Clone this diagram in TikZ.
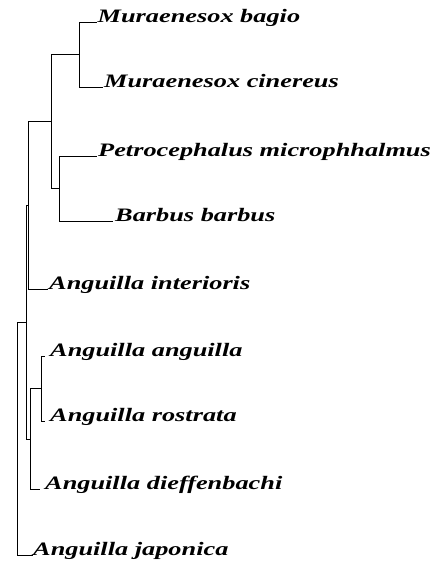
\documentclass[tikz,border=0pt]{standalone}
\usepackage{fontspec}
\setmainfont{Liberation Serif}
\newcommand{\wide}[1]{\scalebox{1.385}[1]{#1}}
\begin{document}
\begin{tikzpicture}[x=1pt,y=-1pt,
  branch/.style={line width=0.9pt, black},
  taxon/.style={anchor=base west, inner sep=0pt, font=\fontsize{19}{21}\selectfont\bfseries\itshape}]
\useasboundingbox (0,0) rectangle (438,567);
% leaf tips
\coordinate (tmb) at (97,22.7);
\coordinate (tmc) at (103,87.3);
\coordinate (tpm) at (97,156);
\coordinate (tbb) at (113,221.7);
\coordinate (tai) at (48,289.3);
\coordinate (taa) at (45,356);
\coordinate (tar) at (45,421);
\coordinate (tad) at (40,489.3);
\coordinate (taj) at (33,555);
% internal nodes
\coordinate (A) at (79,54);
\coordinate (B) at (59.3,188.8);
\coordinate (C) at (51.7,121.7);
\coordinate (D) at (28.3,205.5);
\coordinate (E) at (41.7,388.5);
\coordinate (F) at (30,439);
\coordinate (G) at (26.7,322);
\coordinate (H) at (17.3,438.5);
% labels
\node[taxon] (mb) at (97.5,22.7) {\wide{Muraenesox bagio}};
\node[taxon] (mc) at (104,87.3) {\wide{Muraenesox cinereus}};
\node[taxon] (pm) at (98,156) {\wide{Petrocephalus microphhalmus}};
\node[taxon] (bb) at (115,221.7) {\wide{Barbus barbus}};
\node[taxon] (ai) at (49,289.3) {\wide{Anguilla interioris}};
\node[taxon] (aa) at (50,356) {\wide{Anguilla anguilla}};
\node[taxon] (ar) at (50,421) {\wide{Anguilla rostrata}};
\node[taxon] (ad) at (45,489.3) {\wide{Anguilla dieffenbachi}};
\node[taxon] (aj) at (33,555) {\wide{Anguilla japonica}};
% branches
\draw[branch] (A) |- (tmb);
\draw[branch] (A) |- (tmc);
\draw[branch] (B) |- (tpm);
\draw[branch] (B) |- (tbb);
\draw[branch] (C) |- (A);
\draw[branch] (C) |- (B);
\draw[branch] (D) |- (C);
\draw[branch] (D) |- (tai);
\draw[branch] (E) |- (taa);
\draw[branch] (E) |- (tar);
\draw[branch] (F) |- (E);
\draw[branch] (F) |- (tad);
\draw[branch] (G) |- (D);
\draw[branch] (G) |- (F);
\draw[branch] (H) |- (G);
\draw[branch] (H) |- (taj);
\end{tikzpicture}
\end{document}
